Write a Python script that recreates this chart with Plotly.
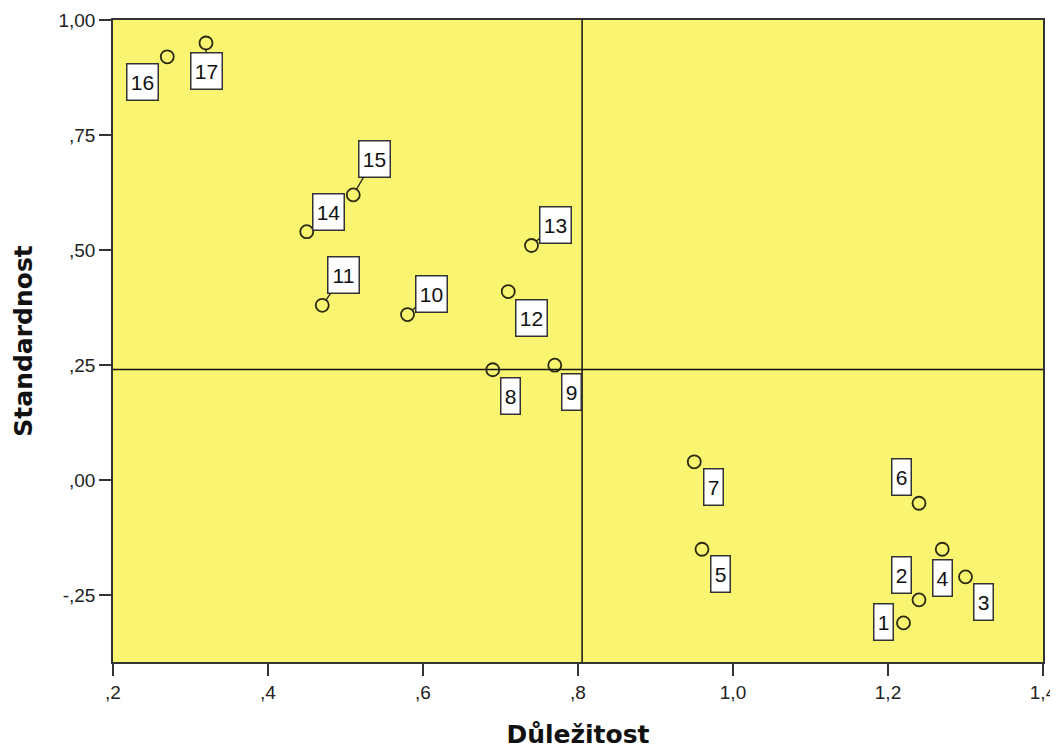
import plotly.graph_objects as go

# Data
labels = [str(i) for i in range(1, 18)]
importance = [1.22, 1.24, 1.30, 1.27, 0.96, 1.24, 0.95, 0.69, 0.77, 0.58, 0.47, 0.71, 0.74, 0.45, 0.51, 0.27, 0.32]
standard = [-0.31, -0.26, -0.21, -0.15, -0.15, -0.05, 0.04, 0.24, 0.25, 0.36, 0.38, 0.41, 0.51, 0.54, 0.62, 0.92, 0.95]

x_tickvals = [0.2, 0.4, 0.6, 0.8, 1.0, 1.2, 1.4]
x_ticktext = [",2", ",4", ",6", ",8", "1,0", "1,2", "1,4"]
y_tickvals = [-0.25, 0.0, 0.25, 0.5, 0.75, 1.0]
y_ticktext = ["-,25", ",00", ",25", ",50", ",75", "1,00"]

# label placement (pixel offsets of label box centre from its point) and leader-line flags
label_offsets = [(-20, -1), (-18, -25), (18, 25), (0, 29), (18, 25), (-18, -26), (19, 25),
                 (18, 26), (17, 27), (24, -21), (21, -30), (23, 26), (24, -21), (22, -20),
                 (21, -36), (-25, 25), (0, 28)]
leaders = [False, False, False, False, False, False, False, False, False, True, True, False,
           True, False, True, False, True]

mean_x = sum(importance) / len(importance)
mean_y = sum(standard) / len(standard)

fig = go.Figure()
fig.add_trace(go.Scatter(
    x=importance, y=standard, mode="markers",
    marker=dict(symbol="circle-open", size=13, color="#2a2a10", line=dict(width=1.8, color="#2a2a10")),
    hoverinfo="skip", showlegend=False,
))

fig.add_shape(type="line", xref="x", yref="paper", x0=mean_x, x1=mean_x, y0=0, y1=1,
              line=dict(color="#111", width=1.5), layer="below")
fig.add_shape(type="line", xref="paper", yref="y", x0=0, x1=1, y0=mean_y, y1=mean_y,
              line=dict(color="#111", width=1.5), layer="below")

for lab, xv, yv, (dx, dy), lead in zip(labels, importance, standard, label_offsets, leaders):
    fig.add_annotation(
        x=xv, y=yv, xref="x", yref="y", text=lab,
        showarrow=True, arrowhead=0, arrowwidth=1.3,
        arrowcolor="#222" if lead else "rgba(0,0,0,0)", standoff=6,
        ax=dx, ay=dy,
        font=dict(family="Liberation Sans, Arial", size=21, color="#111"),
        bgcolor="white", bordercolor="#333", borderwidth=1.5, borderpad=2,
        width=26 if len(lab) == 2 else 14, height=31, align="center", valign="middle",
    )

# page body has an 8px margin, so the figure is sized to fit the 1058x749 window
fig.update_layout(
    width=1050, height=741,
    margin=dict(l=105, r=15, t=12, b=87),
    paper_bgcolor="white", plot_bgcolor="#FAF570",
    font=dict(family="Liberation Sans, Arial", size=19, color="#222"),
    xaxis=dict(
        range=[0.2, 1.4], tickvals=x_tickvals, ticktext=x_ticktext, automargin=False,
        ticks="outside", ticklen=12, tickwidth=1.5, tickcolor="#333",
        showline=True, linecolor="#333", linewidth=1.5, mirror=True,
        showgrid=False, zeroline=False,
        title=dict(text="<b>Důležitost</b>", font=dict(family="DejaVu Sans", size=25, color="#111"), standoff=26),
    ),
    yaxis=dict(
        range=[-0.395, 1.0], tickvals=y_tickvals, ticktext=y_ticktext, automargin=False,
        ticks="outside", ticklen=12, tickwidth=1.5, tickcolor="#333",
        showline=True, linecolor="#333", linewidth=1.5, mirror=True,
        showgrid=False, zeroline=False,
        title=dict(text="<b>Standardnost</b>", font=dict(family="DejaVu Sans", size=25, color="#111"), standoff=19),
    ),
)

fig.write_html("out.html")
